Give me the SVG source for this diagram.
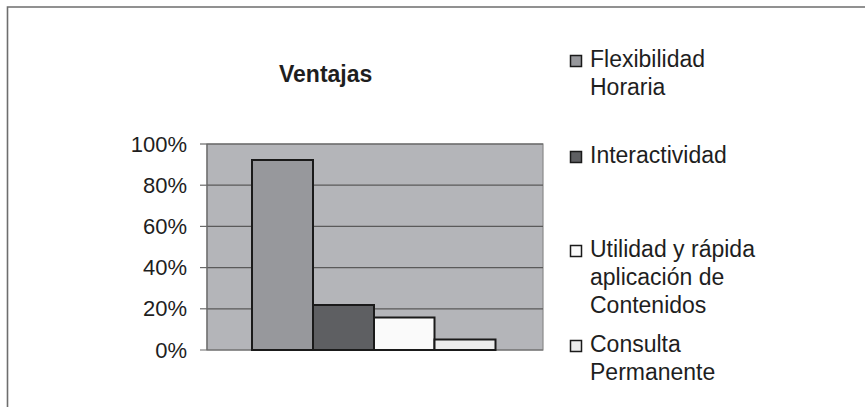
<svg xmlns="http://www.w3.org/2000/svg" width="865" height="407" viewBox="0 0 865 407">
<style>
text{font-family:"Liberation Sans",Arial,sans-serif;fill:#1e1e1e}
.ax{font-size:22px;text-anchor:end}
.lg{font-size:23px}
.grid{stroke:#5a5a5a;stroke-width:1.2}
.bar{stroke:#1a1a1a;stroke-width:2}
.key{stroke:#1a1a1a;stroke-width:1.5}
</style>
<rect width="865" height="407" fill="#fff"/>
<g id="frame" fill="none" stroke="#6e6e6e" stroke-width="1.6">
<path d="M7.5,407 V7 H865"/>
</g>
<g id="title"><text x="279" y="82" style="font-size:23px;font-weight:bold">Ventajas</text></g>
<g id="plot">
<rect x="207" y="144" width="336" height="206" fill="#b4b5b9" stroke="#8a8a8a" stroke-width="1.2"/>
<line class="grid" x1="207" y1="144" x2="543" y2="144"/>
<line class="grid" x1="207" y1="185.2" x2="543" y2="185.2"/>
<line class="grid" x1="207" y1="226.4" x2="543" y2="226.4"/>
<line class="grid" x1="207" y1="267.6" x2="543" y2="267.6"/>
<line class="grid" x1="207" y1="308.8" x2="543" y2="308.8"/>
<line x1="207" y1="144" x2="207" y2="350" stroke="#6a6a6a" stroke-width="1.2"/>
<line x1="200" y1="350" x2="543" y2="350" stroke="#6a6a6a" stroke-width="1.2"/>
<g stroke="#6a6a6a" stroke-width="1.2">
<line x1="200" y1="144" x2="207" y2="144"/>
<line x1="200" y1="185.2" x2="207" y2="185.2"/>
<line x1="200" y1="226.4" x2="207" y2="226.4"/>
<line x1="200" y1="267.6" x2="207" y2="267.6"/>
<line x1="200" y1="308.8" x2="207" y2="308.8"/>
</g>
</g>
<g id="yaxis">
<text class="ax" x="187" y="151.5">100%</text>
<text class="ax" x="187" y="192.7">80%</text>
<text class="ax" x="187" y="233.9">60%</text>
<text class="ax" x="187" y="275.1">40%</text>
<text class="ax" x="187" y="316.3">20%</text>
<text class="ax" x="187" y="357.5">0%</text>
</g>
<g id="bars">
<rect class="bar" x="252" y="160" width="61" height="190" fill="#97989c"/>
<rect class="bar" x="313" y="305" width="61" height="45" fill="#5e5f62"/>
<rect class="bar" x="374" y="317.5" width="60.5" height="32.5" fill="#fafafa"/>
<rect class="bar" x="434.5" y="339.5" width="61" height="10.5" fill="#ececec"/>
</g>
<g id="legend">
<g id="leg1"><rect class="key" x="570.5" y="55.5" width="11" height="11" fill="#97989c"/><text class="lg" x="590" y="67">Flexibilidad</text><text class="lg" x="590" y="95">Horaria</text></g>
<g id="leg2"><rect class="key" x="570.5" y="151.5" width="11" height="11" fill="#5e5f62"/><text class="lg" x="590" y="163">Interactividad</text></g>
<g id="leg3"><rect class="key" x="570.5" y="245.5" width="11" height="11" fill="#fafafa"/><text class="lg" x="590" y="257">Utilidad y rápida</text><text class="lg" x="590" y="285">aplicación de</text><text class="lg" x="590" y="313">Contenidos</text></g>
<g id="leg4"><rect class="key" x="570.5" y="340.5" width="11" height="11" fill="#ececec"/><text class="lg" x="590" y="352">Consulta</text><text class="lg" x="590" y="380">Permanente</text></g>
</g>
</svg>
